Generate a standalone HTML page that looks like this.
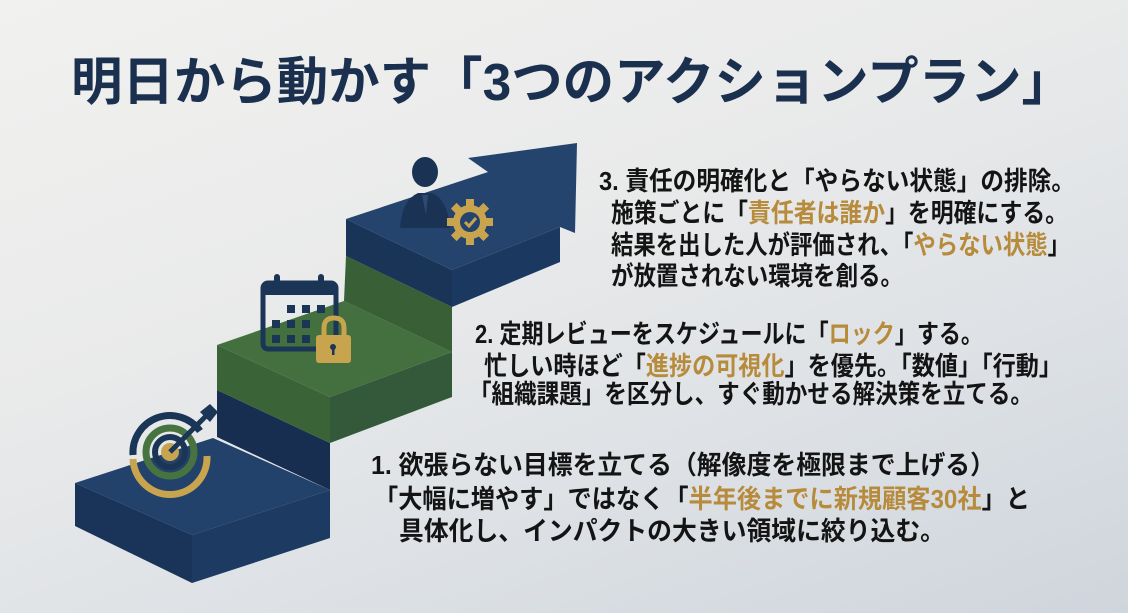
<!DOCTYPE html>
<html><head><meta charset="utf-8"><style>
html,body{margin:0;padding:0}
body{width:1128px;height:613px;overflow:hidden;background:linear-gradient(160deg,#f1f1ef 0%,#e9eaea 40%,#dde1e5 70%,#cfd5dc 100%)}
svg{display:block}
text{font-family:"Liberation Sans","Noto Sans CJK JP",sans-serif;font-weight:bold}
</style></head><body>
<svg width="1128" height="613" viewBox="0 0 1128 613" xmlns="http://www.w3.org/2000/svg">
<!-- Title -->
<text x="71" y="100" font-size="52" fill="#1b2f4e" textLength="1002" lengthAdjust="spacingAndGlyphs">明日から動かす「3つのアクションプラン」</text>

<!-- Step 1 -->
<polygon points="75,483 192,535 192,583 75,526" fill="#1a3358"/>
<polygon points="192,535 330,490 330,538 192,583" fill="#1c3a62"/>
<polygon points="75,483 213,438 330,490 192,535" fill="#22416b"/>
<!-- Step 2 riser (navy) -->
<polygon points="217,390 330,443 330,490 217,437" fill="#172e50"/>
<!-- Step 2 green -->
<polygon points="217,345 330,397 330,443 217,390" fill="#3a6438"/>
<polygon points="330,397 452,352 452,397 330,443" fill="#33593a"/>
<polygon points="217,345 344,301 452,352 330,397" fill="#44703f"/>
<!-- Step 3 riser green -->
<polygon points="346,256 452,307 452,352 344,301" fill="#395f37"/>
<!-- Step 3 navy -->
<polygon points="346,219 452,270 452,307 346,256" fill="#1a3458"/>
<polygon points="452,270 560,227 560,262 452,307" fill="#1b3860"/>
<polygon points="346,219 488,172 468,158 577,143 575,233 560,227 452,270" fill="#24436d"/>

<!-- Person -->
<g fill="#1a3354">
<ellipse cx="425" cy="172" rx="13" ry="15"/>
<path d="M400,228 Q402,200 418,193 L432,193 Q448,200 450,228 Z"/>
</g>
<path d="M422,195 L428,195 L426,215 Z" fill="#2c4a73"/>
<!-- Gear -->
<g transform="translate(470,222)">
<g fill="#c9a44f">
<circle r="17"/>
<rect x="-4" y="-23" width="8" height="46"/>
<rect x="-4" y="-23" width="8" height="46" transform="rotate(45)"/>
<rect x="-4" y="-23" width="8" height="46" transform="rotate(90)"/>
<rect x="-4" y="-23" width="8" height="46" transform="rotate(135)"/>
</g>
<circle r="10" fill="#24436d"/>
<path d="M-5,0 L-1,4 L6,-4" stroke="#c9a44f" stroke-width="3" fill="none"/>
</g>

<!-- Calendar -->
<g>
<rect x="263" y="283" width="73" height="66" rx="5" fill="none" stroke="#1b3557" stroke-width="5"/>
<rect x="263" y="283" width="73" height="12" fill="#1b3557"/>
<rect x="274" y="274" width="6" height="16" rx="3" fill="#1b3557"/>
<rect x="318" y="274" width="6" height="16" rx="3" fill="#1b3557"/>
<g fill="#1b3557">
<rect x="287" y="305" width="8" height="8"/><rect x="302" y="305" width="8" height="8"/><rect x="317" y="305" width="8" height="8"/>
<rect x="272" y="320" width="8" height="8"/><rect x="287" y="320" width="8" height="8"/><rect x="302" y="320" width="8" height="8"/>
<rect x="272" y="335" width="8" height="8"/><rect x="287" y="335" width="8" height="8"/><rect x="302" y="335" width="8" height="8"/>
</g>
</g>
<!-- Lock -->
<path d="M324,337 L324,328 Q324,318 334,318 Q344,318 344,328 L344,337" fill="none" stroke="#c9a44f" stroke-width="5"/>
<rect x="316" y="335" width="35" height="28" rx="3" fill="#c9a44f"/>
<circle cx="333" cy="347" r="3" fill="#1b3557"/>
<rect x="332" y="348" width="2.5" height="7" fill="#1b3557"/>

<!-- Target -->
<g transform="translate(170,452)">
<path d="M-37,3 A37,37 0 0 1 30,-21" fill="none" stroke="#1b3557" stroke-width="7"/>
<path d="M-37,7 A37,37 0 0 0 37,4" fill="none" stroke="#c9a44f" stroke-width="7"/>
<circle r="24" fill="none" stroke="#46733f" stroke-width="7"/>
<circle r="15" fill="none" stroke="#1b3557" stroke-width="6"/>
<circle r="9" fill="#c9a44f"/>
<line x1="0" y1="0" x2="40" y2="-40" stroke="#1b3557" stroke-width="5"/>
<path d="M30,-40 L40,-48 L44,-44 L48,-40 L40,-30 Z" fill="#1b3557"/>
</g>

<!-- Block 3 -->
<g font-size="26" fill="#141414">
<text x="599" y="190" textLength="476" lengthAdjust="spacingAndGlyphs">3. 責任の明確化と「やらない状態」の排除。</text>
<text x="611" y="222" textLength="457" lengthAdjust="spacingAndGlyphs">施策ごとに「<tspan fill="#b78b3c">責任者は誰か</tspan>」を明確にする。</text>
<text x="611" y="254" textLength="459" lengthAdjust="spacingAndGlyphs">結果を出した人が評価され、「<tspan fill="#b78b3c">やらない状態</tspan>」</text>
<text x="611" y="285" textLength="292" lengthAdjust="spacingAndGlyphs">が放置されない環境を創る。</text>
</g>
<!-- Block 2 -->
<g font-size="26" fill="#141414">
<text x="475" y="343" textLength="508" lengthAdjust="spacingAndGlyphs">2. 定期レビューをスケジュールに「<tspan fill="#b78b3c">ロック</tspan>」する。</text>
<text x="484" y="375" textLength="578" lengthAdjust="spacingAndGlyphs">忙しい時ほど「<tspan fill="#b78b3c">進捗の可視化</tspan>」を優先。「数値」「行動」</text>
<text x="469" y="403" textLength="564" lengthAdjust="spacingAndGlyphs">「組織課題」を区分し、すぐ動かせる解決策を立てる。</text>
</g>
<!-- Block 1 -->
<g font-size="26" fill="#141414">
<text x="371" y="474" textLength="624" lengthAdjust="spacingAndGlyphs">1. 欲張らない目標を立てる（解像度を極限まで上げる）</text>
<text x="374" y="508" textLength="656" lengthAdjust="spacingAndGlyphs">「大幅に増やす」ではなく「<tspan fill="#b78b3c">半年後までに新規顧客30社</tspan>」と</text>
<text x="399" y="540" textLength="546" lengthAdjust="spacingAndGlyphs">具体化し、インパクトの大きい領域に絞り込む。</text>
</g>
</svg>
</body></html>
